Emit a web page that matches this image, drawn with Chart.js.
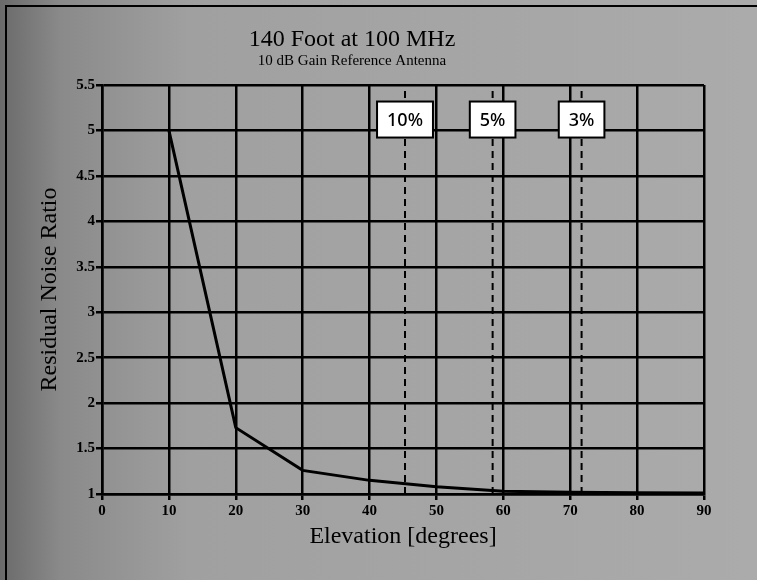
<!DOCTYPE html>
<html>
<head>
<meta charset="utf-8">
<script src="https://cdn.jsdelivr.net/npm/chart.js@4"></script>
<style>
  html, body { margin: 0; padding: 0; background: #a4a4a4; }
  #wrap { width: 757px; height: 580px; }
</style>
</head>
<body>
<div id="wrap"><canvas id="noiseChart" width="757" height="580"></canvas></div>
<script>
// 数据
const elevation = [10, 20, 30, 40, 50, 60, 70, 80, 90];
const noiseRatio = [5.0, 1.73, 1.26, 1.15, 1.08, 1.03, 1.02, 1.015, 1.01];
const thresholdLabels = ['10%', '5%', '3%'];
const thresholdElevations = [45.3, 58.4, 71.7];
const xRange = [0, 90];
const yRange = [1, 5.5];

const serif = '"Liberation Serif", "DejaVu Serif", serif';

// 背景 + 外框
const backdrop = {
    id: 'backdrop',
    beforeDraw(chart) {
        const { ctx, width, height } = chart;
        ctx.save();
        const g = ctx.createLinearGradient(0, 0, width, 0);
        g.addColorStop(0, '#6a6a6a');
        g.addColorStop(0.08, '#8a8a8a');
        g.addColorStop(0.25, '#a0a0a0');
        g.addColorStop(1, '#ababab');
        ctx.fillStyle = g;
        ctx.fillRect(0, 0, width, height);
        ctx.strokeStyle = '#000';
        ctx.lineWidth = 2;
        ctx.beginPath();
        ctx.moveTo(6, height);
        ctx.lineTo(6, 6);
        ctx.lineTo(width, 6);
        ctx.stroke();
        ctx.restore();
    }
};

// 百分比标签框
const thresholdBoxes = {
    id: 'thresholdBoxes',
    afterDatasetsDraw(chart) {
        const { ctx, scales: { x, y } } = chart;
        ctx.save();
        ctx.font = '500 18px "Noto Sans", "Open Sans", sans-serif';
        ctx.textAlign = 'center';
        ctx.textBaseline = 'middle';
        const cy = y.getPixelForValue(5.12);
        thresholdLabels.forEach((lab, i) => {
            const cx = x.getPixelForValue(thresholdElevations[i]);
            const w = ctx.measureText(lab).width + 20;
            const h = 36;
            ctx.fillStyle = '#fff';
            ctx.fillRect(cx - w / 2, cy - h / 2, w, h);
            ctx.strokeStyle = '#000';
            ctx.lineWidth = 2;
            ctx.strokeRect(cx - w / 2, cy - h / 2, w, h);
            ctx.fillStyle = '#000';
            ctx.fillText(lab, cx, cy + 1);
        });
        ctx.restore();
    }
};

const datasets = [{
    label: 'Residual Noise Ratio',
    data: elevation.map((e, i) => ({ x: e, y: noiseRatio[i] })),
    borderColor: '#000',
    borderWidth: 3,
    pointRadius: 0,
    tension: 0,
    fill: false
}];
thresholdElevations.forEach((e, i) => {
    datasets.push({
        label: thresholdLabels[i],
        data: [{ x: e, y: yRange[0] }, { x: e, y: yRange[1] }],
        borderColor: '#000',
        borderWidth: 2,
        borderDash: [7, 5],
        pointRadius: 0,
        fill: false
    });
});

new Chart(document.getElementById('noiseChart').getContext('2d'), {
    type: 'line',
    data: { datasets },
    plugins: [backdrop, thresholdBoxes],
    options: {
        responsive: false,
        animation: false,
        layout: { padding: { left: 0, right: 53, top: 0, bottom: 0 } },
        plugins: {
            legend: { display: false },
            tooltip: { enabled: false },
            title: {
                display: true,
                text: '140 Foot at 100 MHz',
                color: '#000',
                font: { family: serif, size: 24, weight: 'normal', lineHeight: 1 },
                padding: { top: 28, bottom: 0 }
            },
            subtitle: {
                display: true,
                text: '10 dB Gain Reference Antenna',
                color: '#000',
                font: { family: serif, size: 15, lineHeight: 1 },
                padding: { top: 2, bottom: 16 }
            }
        },
        scales: {
            x: {
                type: 'linear',
                min: xRange[0],
                max: xRange[1],
                afterFit(scale) { scale.height = 86; },
                border: { color: '#000', width: 2.5 },
                grid: { color: '#000', lineWidth: 2.5, tickLength: 6 },
                ticks: {
                    stepSize: 10,
                    color: '#000',
                    padding: 2,
                    maxRotation: 0,
                    font: { family: serif, size: 15, weight: 'bold' }
                },
                title: {
                    display: true,
                    text: 'Elevation [degrees]',
                    color: '#000',
                    font: { family: serif, size: 24, lineHeight: 1 },
                    padding: { top: 0, bottom: 31 }
                }
            },
            y: {
                type: 'linear',
                min: yRange[0],
                max: yRange[1],
                afterFit(scale) { scale.width = 102; },
                border: { color: '#000', width: 2.5 },
                grid: { color: '#000', lineWidth: 2.5, tickLength: 6 },
                ticks: {
                    stepSize: 0.5,
                    color: '#000',
                    padding: 1,
                    font: { family: serif, size: 15, weight: 'bold' },
                    callback: function(value) {
                        return String(value);
                    }
                },
                title: {
                    display: true,
                    text: 'Residual Noise Ratio',
                    color: '#000',
                    font: { family: serif, size: 24, lineHeight: 1 },
                    padding: { top: 38, bottom: 0 }
                }
            }
        }
    }
});
</script>
</body>
</html>
